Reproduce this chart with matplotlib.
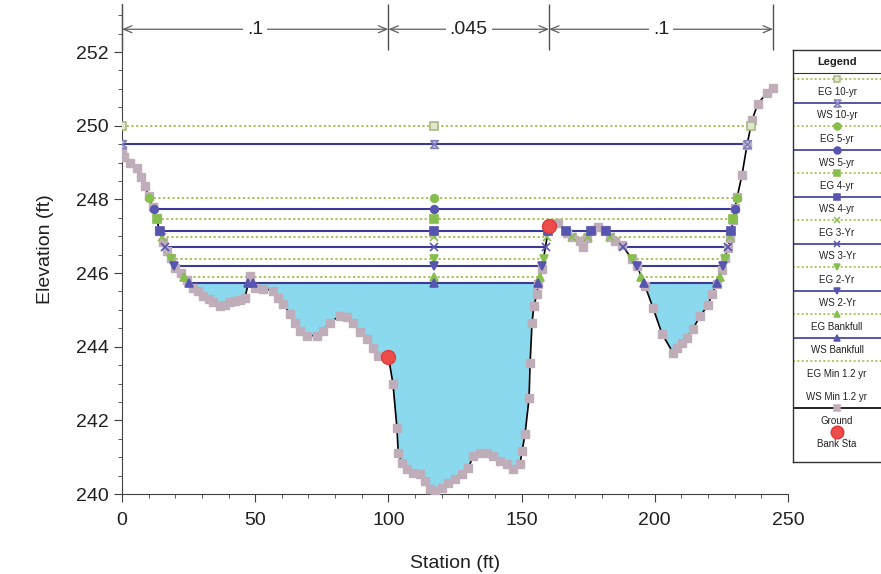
import numpy as np
import matplotlib
matplotlib.use("Agg")
import matplotlib.pyplot as plt
from matplotlib.ticker import MultipleLocator

plt.rcParams['font.family'] = ['Liberation Sans', 'DejaVu Sans']

# ---------------- data ----------------
station = [0, 0.8, 3, 5.5, 7, 8.5, 10, 11.5, 13, 14, 15.5, 17, 18.5, 20, 22, 24.5,
           26.7, 28.5, 30.5, 32.5, 34.2, 36.8, 38.5, 40.5, 42.5, 44.3, 46.2, 48, 50,
           53, 56.7, 58.6, 60.4, 63, 65, 66.8, 69.4, 73.2, 75.5, 78, 81.8, 84.5, 86.7,
           89.3, 92, 94.2, 96, 100, 101.7, 103.2, 103.7, 105, 107, 109.3, 112, 113.7,
           115.6, 117.5, 120, 122.4, 125, 127.6, 130, 131.8, 134.4, 137, 139.3, 142,
           144.5, 146.8, 149.4, 150.2, 151.3, 152.8, 153.2, 153.9, 154.6, 155.8, 156.2,
           157.6, 160.3, 163.7, 167, 168.9, 172, 173, 174.5, 176.4, 178.7, 181.3, 183.2,
           185, 187.7, 191.4, 193.3, 196.3, 199.3, 202.7, 206.8, 208.3, 210.2, 212,
           214.4, 217, 220, 221.5, 223.3, 225.2, 226.4, 227.5, 228.2, 229.4, 230.1,
           230.9, 232.7, 234.6, 236.5, 238.7, 242, 244.4]
ground = [249.35, 249.15, 249.0, 248.85, 248.6, 248.35, 248.1, 247.8, 247.5, 247.15,
          246.85, 246.6, 246.4, 246.15, 246.0, 245.8, 245.6, 245.5, 245.39, 245.3,
          245.2, 245.1, 245.12, 245.2, 245.25, 245.27, 245.33, 245.93, 245.6, 245.58,
          245.52, 245.33, 245.17, 244.9, 244.65, 244.43, 244.3, 244.3, 244.43, 244.65,
          244.84, 244.8, 244.63, 244.4, 244.2, 243.97, 243.76, 243.73, 243.0, 241.8,
          241.1, 240.85, 240.68, 240.57, 240.54, 240.35, 240.14, 240.08, 240.16, 240.3,
          240.4, 240.54, 240.7, 241.03, 241.1, 241.1, 241.03, 240.9, 240.82, 240.68,
          240.82, 241.17, 241.63, 242.6, 243.56, 244.63, 245.1, 245.44, 245.7, 246.12,
          247.29, 247.37, 247.1, 246.97, 246.88, 246.7, 246.94, 247.16, 247.24, 247.16,
          246.97, 246.88, 246.75, 246.39, 246.2, 245.66, 245.06, 244.35, 243.84,
          243.97, 244.11, 244.24, 244.49, 244.84, 245.12, 245.44, 245.71, 246.07,
          246.42, 246.69, 246.94, 247.43, 247.76, 248.06, 248.65, 249.47, 250.15,
          250.6, 250.88, 251.02]

bank_sta = [100.0, 160.3]
bank_elev = [243.73, 247.29]

profiles = ["10-yr", "5-yr", "4-yr", "3-Yr", "2-Yr", "Bankfull"]
eg_elev = [250.0, 248.05, 247.46, 246.97, 246.39, 245.90]
ws_elev = [249.50, 247.73, 247.13, 246.72, 246.20, 245.74]

n_values = [".1", ".045", ".1"]
n_breaks = [0, 100, 160.3, 244.4]

# ---------------- styles ----------------
EG_COL = '#a9b94a'
WS_COL = '#3b3b96'
EG_MK = '#86bf4e'
WS_MK = '#5656b0'
GROUND_MK = '#bfadb9'
WATER = '#8ad9ef'
hourglass = [(-1, 1), (1, 1), (-1, -1), (1, -1), (-1, 1)]
eg_markers = [dict(marker='s', mfc='#dfe8cc', mec='#a8b888'),
              dict(marker='o', mfc=EG_MK, mec=EG_MK),
              dict(marker='s', mfc=EG_MK, mec=EG_MK),
              dict(marker='x', mfc=EG_MK, mec=EG_MK),
              dict(marker='v', mfc=EG_MK, mec=EG_MK),
              dict(marker='^', mfc=EG_MK, mec=EG_MK)]
ws_markers = [dict(marker=hourglass, mfc='#d8d8ec', mec='#8080b8'),
              dict(marker='o', mfc=WS_MK, mec=WS_MK),
              dict(marker='s', mfc=WS_MK, mec=WS_MK),
              dict(marker='x', mfc=WS_MK, mec=WS_MK),
              dict(marker='v', mfc=WS_MK, mec=WS_MK),
              dict(marker='^', mfc=WS_MK, mec=WS_MK)]

x = np.asarray(station, float)
z = np.asarray(ground, float)


def wet_segments(level):
    segs = []
    start = None
    for i in range(len(x)):
        below = z[i] < level
        if below and start is None:
            if i == 0:
                start = x[0]
            else:
                start = x[i-1] + (level - z[i-1]) * (x[i] - x[i-1]) / (z[i] - z[i-1])
        elif (not below) and start is not None:
            end = x[i-1] + (level - z[i-1]) * (x[i] - x[i-1]) / (z[i] - z[i-1])
            segs.append([start, end])
            start = None
    if start is not None:
        segs.append([start, x[-1]])
    merged = []
    for s in segs:
        if merged and s[0] - merged[-1][1] < 1.5:
            merged[-1][1] = s[1]
        else:
            merged.append(s)
    return [s for s in merged if s[1] - s[0] > 0.6]


fig = plt.figure(figsize=(8.81, 5.74), dpi=100)
ax = fig.add_axes([122/881, (574-494)/574, 666/881, 489.8/574])
ax.set_xlim(0, 250)
ax.set_ylim(240, 253.3)

# water fill for lowest profile
ax.fill_between(x, z, ws_elev[-1], where=z < ws_elev[-1], interpolate=True,
                color=WATER, lw=0, zorder=1)

# profile lines
for lvl_list, col, ls, lw, mks in ((eg_elev, EG_COL, (0, (1.2, 1.4)), 1.3, eg_markers),
                                    (ws_elev, WS_COL, '-', 1.5, ws_markers)):
    for lvl, mk in zip(lvl_list, mks):
        for s0, s1 in wet_segments(lvl):
            ax.plot([s0, s1], [lvl, lvl], color=col, ls=ls, lw=lw, zorder=2)
            pts = [s0, s1]
            if s0 < 117 < s1:
                pts.append(117)
            ax.plot(pts, [lvl]*len(pts), ls='none', ms=5.5, mew=1.2, zorder=6,
                    marker=mk['marker'], mfc=mk['mfc'], mec=mk['mec'])

# ground
ax.plot(x, z, color='black', lw=1.2, zorder=3)
ax.plot(x, z, ls='none', marker='s', ms=5.8, mfc=GROUND_MK, mec=GROUND_MK, zorder=4)
ax.plot(bank_sta, bank_elev, ls='none', marker='o', ms=10, mfc='#ee4b4b', mec='#e03a3a', zorder=7)

# Manning n annotations
y_arrow = 252.62
ax.vlines(n_breaks, 252.05, 253.3, color='#505050', lw=1.0, clip_on=False, zorder=5)
for i, nv in enumerate(n_values):
    a, b = n_breaks[i], n_breaks[i+1]
    ax.annotate('', xy=(a, y_arrow), xytext=(b, y_arrow),
                arrowprops=dict(arrowstyle='<->,head_length=0.6,head_width=0.25',
                                color='#606060', lw=0.9, shrinkA=0, shrinkB=0),
                annotation_clip=False)
    ax.text((a+b)/2, y_arrow, nv, ha='center', va='center', fontsize=14, color='#202020',
            bbox=dict(facecolor='white', edgecolor='none', pad=3), zorder=6)

# axes styling
for sp in ('top', 'right'):
    ax.spines[sp].set_visible(False)
for sp in ('left', 'bottom'):
    ax.spines[sp].set_color('#404040')
ax.xaxis.set_major_locator(MultipleLocator(50))
ax.xaxis.set_minor_locator(MultipleLocator(10))
ax.yaxis.set_minor_locator(MultipleLocator(0.5))
ax.set_yticks(np.arange(240, 253, 2))
ax.tick_params(axis='both', which='major', direction='out', length=6, labelsize=14,
               color='#404040', labelcolor='#202020')
ax.tick_params(axis='x', which='major', pad=7)
ax.tick_params(axis='both', which='minor', direction='out', length=3, color='#404040')
ax.set_xlabel('Station (ft)', fontsize=14, color='#202020', labelpad=19)
ax.set_ylabel('Elevation (ft)', fontsize=14, color='#202020', labelpad=16)

# ---------------- legend box ----------------
lax = fig.add_axes([793/881, (574-462)/574, 110/881, (462-50)/574])
lax.set_xlim(0, 110)
lax.set_ylim(462, 50)
lax.set_xticks([])
lax.set_yticks([])
for sp in lax.spines.values():
    sp.set_color('#303030')
    sp.set_linewidth(1.0)
lax.text(44, 62, 'Legend', ha='center', va='center', fontsize=8, fontweight='bold', color='#202020')
lax.plot([0, 110], [73, 73], color='#303030', lw=0.8)

entries = []
for p, emk, wmk in zip(profiles, eg_markers, ws_markers):
    entries.append(('EG ' + p, EG_COL, (0, (1.2, 1.4)), emk))
    entries.append(('WS ' + p, WS_COL, '-', wmk))
entries.append(('EG Min 1.2 yr', EG_COL, (0, (1.2, 1.4)), None))
entries.append(('WS Min 1.2 yr', None, '-', None))
entries.append(('Ground', 'black', '-', dict(marker='s', mfc=GROUND_MK, mec=GROUND_MK)))
entries.append(('Bank Sta', None, '-', dict(marker='o', mfc='#ee4b4b', mec='#e03a3a')))

for i, (lab, col, ls, mk) in enumerate(entries):
    yl = 79.3 + 23.5 * i
    yt = 92.0 + 23.5 * i
    if col is not None:
        lax.plot([0, 110], [yl, yl], color=col, ls=ls, lw=1.2)
    if mk is not None:
        ms = 9 if lab == 'Bank Sta' else 5
        lax.plot([44], [yl], ls='none', marker=mk['marker'], mfc=mk['mfc'], mec=mk['mec'],
                 ms=ms, mew=1.1)
    lax.text(44, yt, lab, ha='center', va='center', fontsize=7, color='#202020')

fig.savefig('out.png', dpi=100)
